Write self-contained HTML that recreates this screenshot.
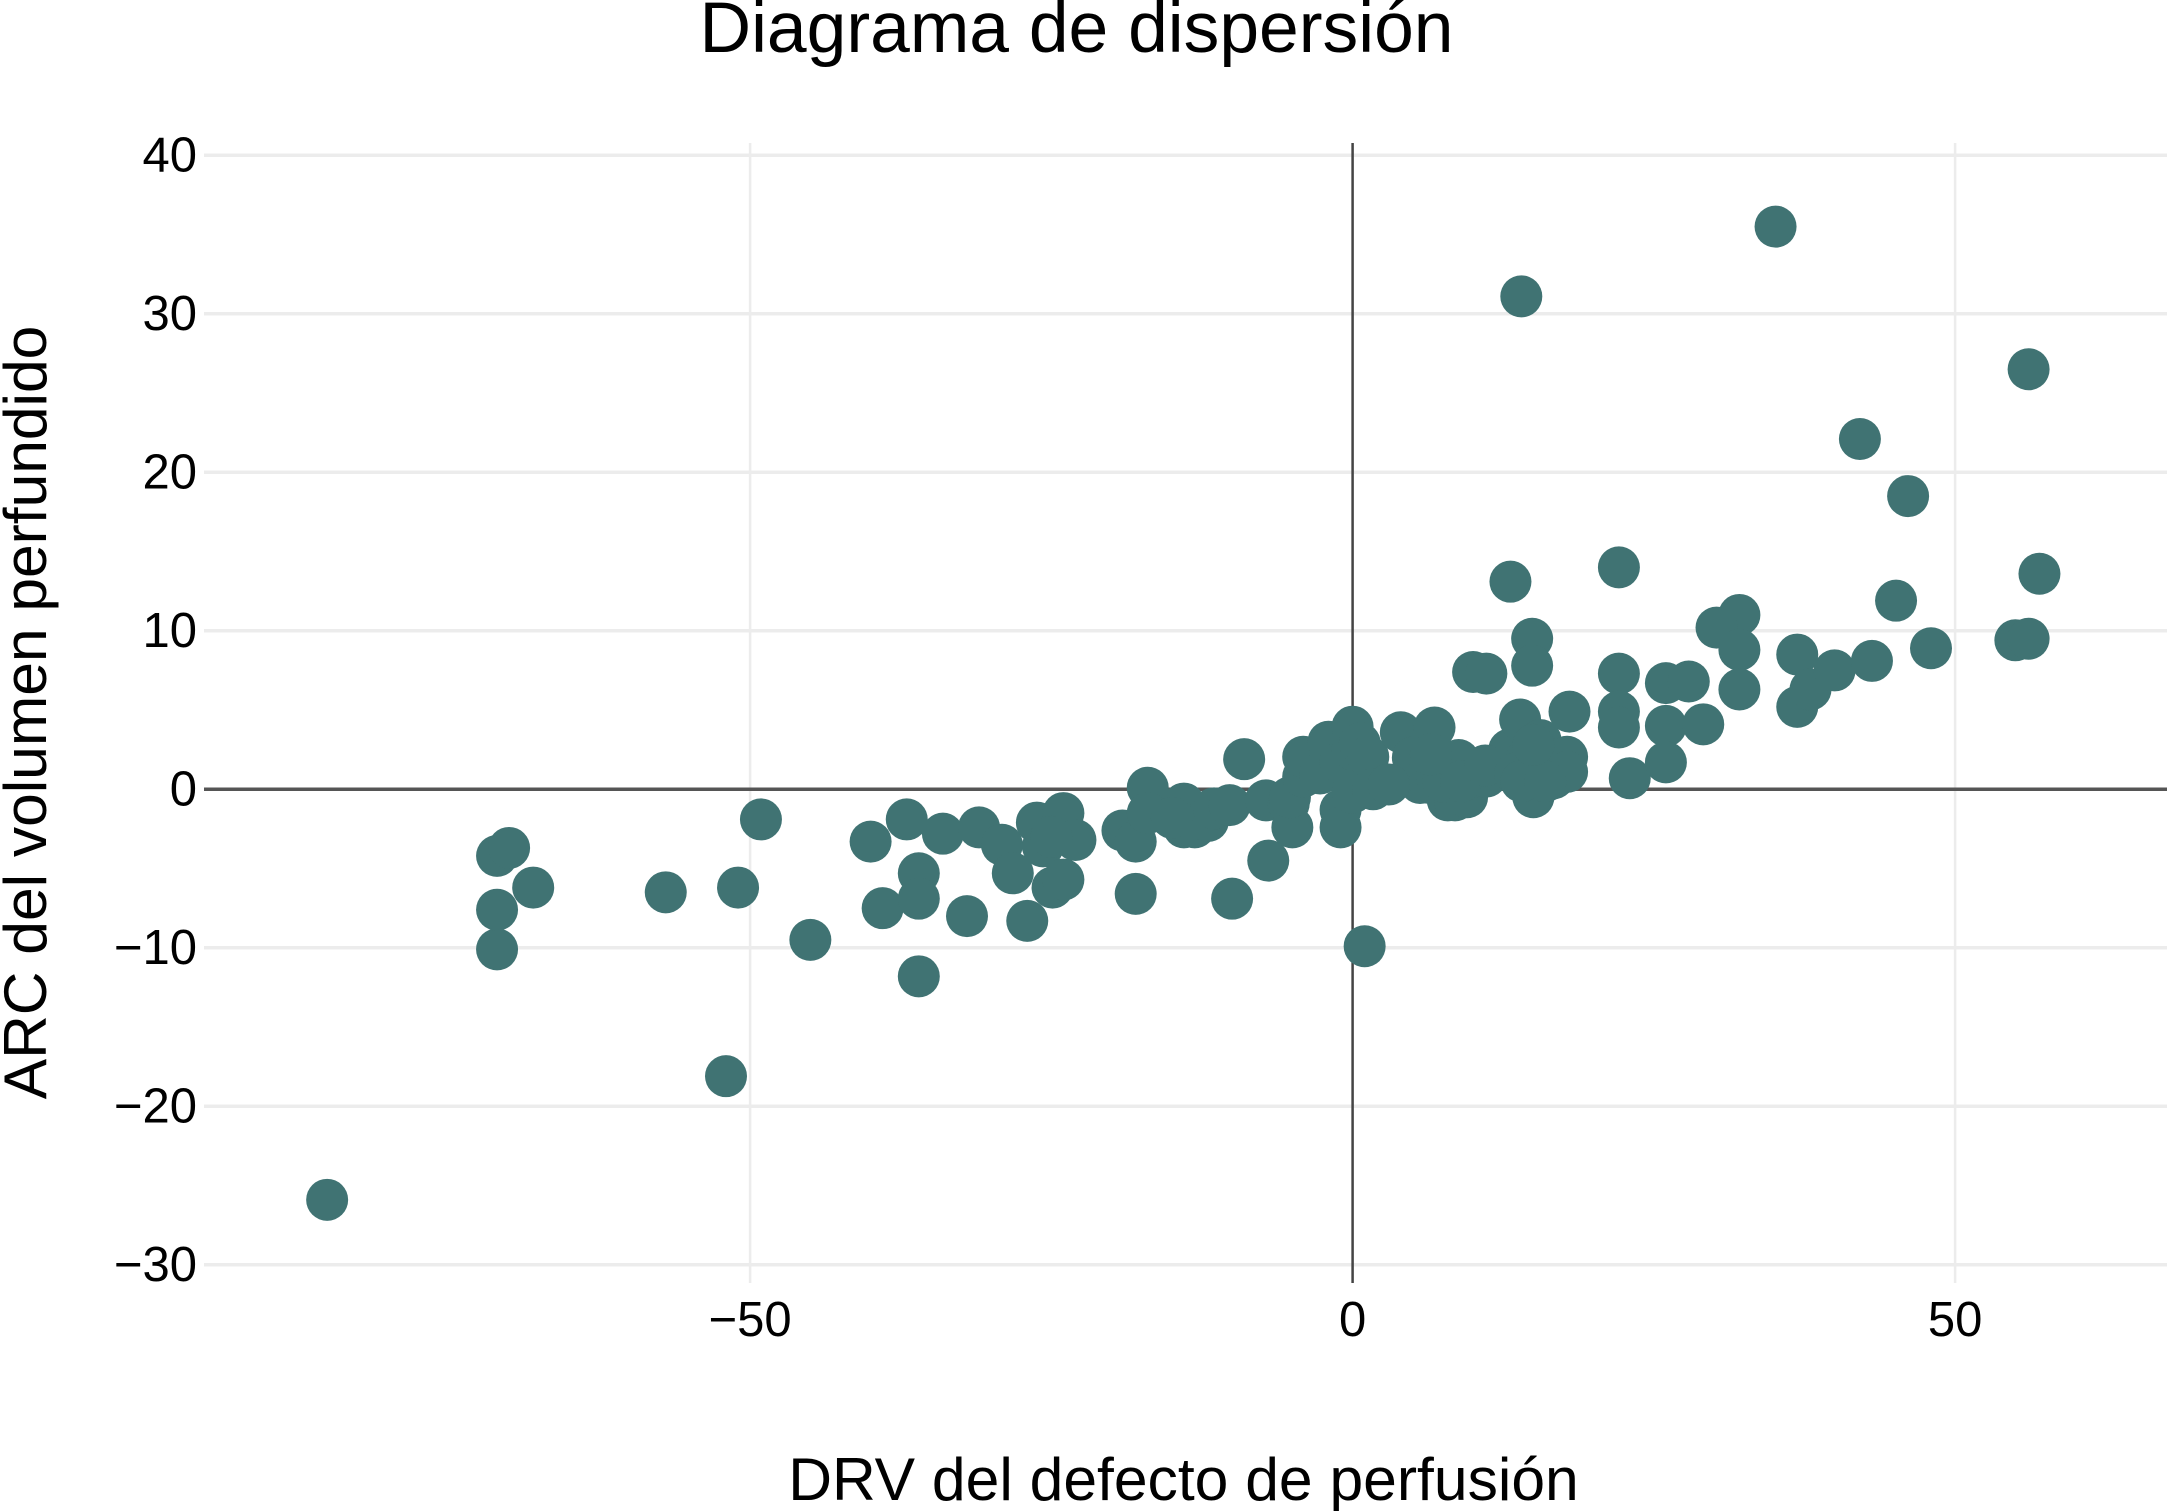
<!DOCTYPE html>
<html lang="es">
<head>
<meta charset="utf-8">
<title>Diagrama de dispersión</title>
<style>
html,body{margin:0;padding:0;background:#fff;width:2167px;height:1511px;overflow:hidden}
svg{display:block}
text{font-family:"Liberation Sans",Arial,sans-serif;fill:#000}
</style>
</head>
<body>
<svg id="chart" xmlns="http://www.w3.org/2000/svg" width="2167" height="1511" viewBox="0 0 2167 1511">
  <rect x="0" y="0" width="2167" height="1511" fill="#ffffff"/>
  <g id="grid"></g>
  <g id="axes"></g>
  <g id="ticks"></g>
  <g id="points"></g>
  <text x="1076.5" y="52" font-size="71.4" text-anchor="middle">Diagrama de dispersión</text>
  <text x="1183.5" y="1500" font-size="60.6" text-anchor="middle">DRV del defecto de perfusión</text>
  <text transform="translate(46 712.5) rotate(-90)" font-size="60.5" text-anchor="middle">ARC del volumen perfundido</text>
</svg>
<script>
const xTicks = [-50, 0, 50];
const yTicks = [-30, -20, -10, 0, 10, 20, 30, 40];
const xValues = [
  -85.1, -71, -71, -68, -71, -70, -57, -52, -51, -49.1, -45, -40, -39, -37, -36, -36, -36, -34, -32, -31,
  -29.1, -28.2, -27, -26.2, -25.7, -24.9, -24, -24, -23, -25, -19.1, -18, -18, -17, -17, -14, -14, -14.1, -13.1, -12,
  -11.5, -15, -10.2, -10, -9, -7.2, -7, -5.3, -5, -5.2, -4.1, -4.1, -2.7, -2, -1, -1, -1, 0, 0, 0,
  0.6, 1.3, 1.7, 1, 4, 5, 5.6, 6.8, 6.4, 7, 7.9, 8.5, 8.8, 9.5, 10.3, 11.1, 12, 12.7, 13, 13.9,
  15.6, 15, 15, 14.5, 16, 16.7, 17.8, 17.8, 18, 10, 11.1, 14.9, 14.9, 13.1, 14, 22.1, 22.1, 22.1, 22.1, 23,
  26, 27.9, 26, 26, 29.1, 32.1, 30.2, 32.1, 32.1, 36.9, 36.9, 38, 40, 43.1, 48, 55, 56.1, 57, 45.1, 46.1,
  42.1, 56.1, 35.1, 7.5, 9, 11, 13.5, 14, 16, 15, 3, 6.5
];
const yValues = [
  -25.9, -10.1, -7.6, -6.2, -4.2, -3.7, -6.5, -18.1, -6.2, -1.9, -9.5, -3.3, -7.5, -1.9, -11.8, -5.3, -6.9, -2.8, -8, -2.4,
  -3.5, -5.3, -8.3, -2.1, -3.6, -6.2, -1.5, -5.7, -3.2, -3, -2.6, -3.3, -6.6, 0.1, -1.5, -0.9, -2.4, -2.2, -2.4, -2,
  -1.2, -1.8, -1, -6.9, 1.9, -0.7, -4.5, -0.9, -2.4, -0.5, 0.8, 2.05, 1, 3, 1.7, -1.3, -2.4, 3.95, 2.5, -0.2,
  2.9, 2.05, 0, -9.9, 3.6, 2, 0.4, 3.9, 0.4, 0.8, -0.7, -0.7, 1.85, -0.5, 0.8, 0.8, 1.2, 1.85, 2.5, 4.4,
  3.1, 1.4, -0.5, 2, 2, 0.7, 2.05, 1.1, 4.9, 7.4, 7.3, 9.5, 7.8, 13.1, 31.1, 14, 7.3, 4.9, 3.9, 0.7,
  6.7, 6.8, 4, 1.7, 4.1, 11, 10.2, 8.8, 6.3, 8.5, 5.2, 6.3, 7.5, 8.1, 8.9, 9.4, 9.5, 13.6, 11.9, 18.5,
  22.1, 26.5, 35.5, 0.5, 0.5, 1.5, 1, 0.5, 0.5, 2.8, 0.3, 2.2
];

const xAt = v => 1352.6 + v * 12.05;
const yAt = v => 789.3 - v * 15.85;
const NS = 'http://www.w3.org/2000/svg';
const fmt = v => String(v).replace('-', '\u2212');

const gridG = document.getElementById('grid');
const axesG = document.getElementById('axes');
const tickG = document.getElementById('ticks');
const ptsG = document.getElementById('points');

function line(parent, x1, y1, x2, y2, stroke, width) {
  const l = document.createElementNS(NS, 'line');
  l.setAttribute('x1', x1);
  l.setAttribute('y1', y1);
  l.setAttribute('x2', x2);
  l.setAttribute('y2', y2);
  l.setAttribute('stroke', stroke);
  l.setAttribute('stroke-width', width);
  parent.appendChild(l);
  return l;
}

yTicks.forEach(v => {
  if (v !== 0) {
    const g = line(gridG, 204, yAt(v), 2167, yAt(v), '#ececec', 3.5);
    
    
  }
  const t = document.createElementNS(NS, 'text');
  t.setAttribute('x', 197);
  t.setAttribute('y', yAt(v) + 16);
  t.setAttribute('font-size', '49');
  t.setAttribute('text-anchor', 'end');
  t.textContent = fmt(v);
  
  
  tickG.appendChild(t);
});

xTicks.forEach(v => {
  if (v !== 0) {
    const g = line(gridG, xAt(v), 143, xAt(v), 1283, '#ececec', 2.5);
    
    
  }
  const t = document.createElementNS(NS, 'text');
  t.setAttribute('x', xAt(v));
  t.setAttribute('y', 1336);
  t.setAttribute('font-size', '49');
  t.setAttribute('text-anchor', 'middle');
  t.textContent = fmt(v);
  
  
  tickG.appendChild(t);
});

const hAxis = line(axesG, 204, yAt(0), 2167, yAt(0), '#555555', 3.5);


const vAxis = line(axesG, xAt(0), 143, xAt(0), 1283, '#444444', 2.5);



xValues.forEach((x, i) => {
  const c = document.createElementNS(NS, 'circle');
  c.setAttribute('cx', xAt(x));
  c.setAttribute('cy', yAt(yValues[i]));
  c.setAttribute('r', 21);
  c.setAttribute('fill', '#407373');
  
  
  ptsG.appendChild(c);
});
</script>
</body>
</html>
